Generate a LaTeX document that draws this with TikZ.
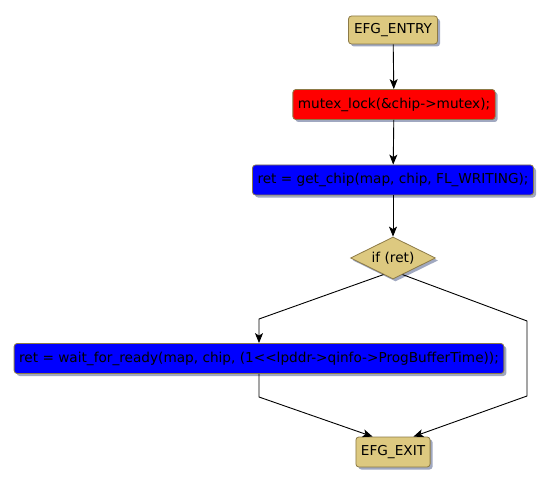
\documentclass[tikz,border=0pt]{standalone}
\usepackage{fontspec}
\setmainfont{DejaVu Sans}
\usetikzlibrary{shapes.geometric,shadows,arrows.meta}

\definecolor{efgtan}{RGB}{221,201,128}
\definecolor{efgedge}{RGB}{140,122,70}
\definecolor{efgshadow}{RGB}{160,168,192}

\tikzset{
  efgnode/.style={draw=efgedge,line width=0.8bp,text=black,
    font=\fontsize{13.7}{16}\selectfont,
    drop shadow={shadow xshift=2.5bp,shadow yshift=-2.5bp,fill=efgshadow,opacity=1}},
  efgbox/.style={efgnode,rounded corners=3bp,inner xsep=5bp,inner ysep=0pt,minimum height=30bp},
  efgcond/.style={efgnode,diamond,aspect=2,inner sep=0pt,minimum width=85bp,minimum height=42bp,fill=efgtan}
}

\begin{document}
\begin{tikzpicture}[x=1bp,y=-1bp,>={Stealth[length=10bp,width=8bp,inset=2.5bp]},line width=0.9bp]
\useasboundingbox (0,0) rectangle (550,486);
\path
(393,30) node[efgbox,fill=efgtan,minimum height=28bp,inner xsep=5.5bp] (entry) {EFG\_ENTRY}
(394,104.5) node[efgbox,fill=red] (lock) {mutex\_lock(\&chip->mutex);}
(393,180) node[efgbox,fill=blue] (getchip) {ret = get\_chip(map, chip, FL\_WRITING);}
(393,258) node[efgcond] (cond) {if (ret)}
(259,358.5) node[efgbox,fill=blue] (wait) {ret = wait\_for\_ready(map, chip, (1<{}<lpddr->qinfo->ProgBufferTime));}
(393,452) node[efgbox,fill=efgtan] (exit) {EFG\_EXIT};
%bends
\coordinate (l1) at (259,319);
\coordinate (l2) at (259,397);
\coordinate (r1) at (527,321);
\coordinate (r2) at (527,396);
\draw[->] (entry) -- (lock);
\draw[->] (lock) -- (getchip);
\draw[->] (getchip) -- (cond);
\draw[->] (cond.-120) -- (l1) -- (wait);
\draw[->] (cond.-60) -- (r1) -- (r2) -- (exit.37);
\draw[->] (wait) -- (l2) -- (exit.143);
\end{tikzpicture}
\end{document}
